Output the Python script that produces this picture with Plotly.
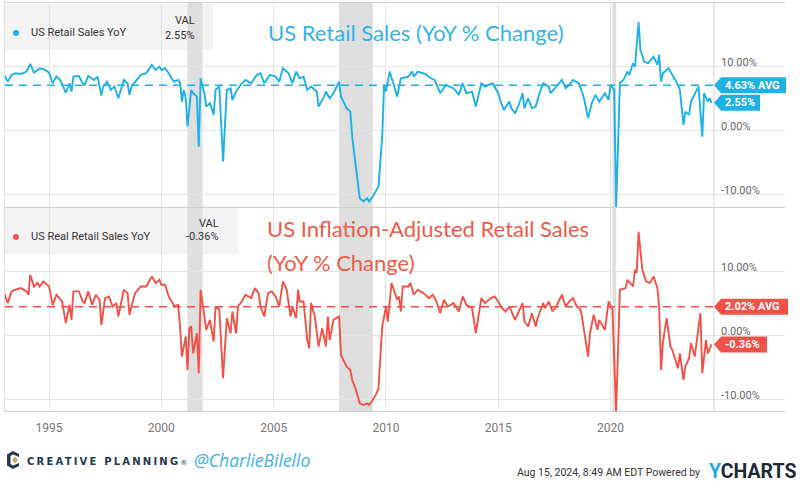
import plotly.graph_objects as go

# ---------------- data (in the chart's axis scale) ----------------
dates_nominal = [
    "1993-01", "1993-03", "1993-05", "1993-07", "1993-10", "1994-01", "1994-03", "1994-05", "1994-07", "1994-08",
    "1994-11", "1995-01", "1995-03", "1995-05", "1995-07", "1995-10", "1995-12", "1996-01", "1996-02", "1996-05",
    "1996-07", "1996-08", "1996-10", "1997-01", "1997-03", "1997-05", "1997-06", "1997-08", "1997-10", "1997-12",
    "1998-02", "1998-05", "1998-07", "1998-08", "1998-09", "1998-11", "1999-02", "1999-05", "1999-08", "1999-10",
    "1999-12", "2000-01", "2000-03", "2000-05", "2000-07", "2000-08", "2000-10", "2000-11", "2000-12", "2001-01",
    "2001-02", "2001-03", "2001-05", "2001-06", "2001-08", "2001-09", "2001-10", "2001-12", "2002-01", "2002-03",
    "2002-05", "2002-06", "2002-08", "2002-10", "2002-12", "2003-02", "2003-03", "2003-05", "2003-08", "2003-10",
    "2004-01", "2004-04", "2004-06", "2004-08", "2004-11", "2005-02", "2005-04", "2005-06", "2005-09", "2005-11",
    "2006-01", "2006-03", "2006-05", "2006-07", "2006-09", "2006-12", "2007-01", "2007-04", "2007-05", "2007-07",
    "2007-09", "2007-12", "2008-01", "2008-04", "2008-06", "2008-07", "2008-09", "2008-11", "2009-01", "2009-03",
    "2009-04", "2009-06", "2009-08", "2009-09", "2009-11", "2009-12", "2010-01", "2010-03", "2010-05", "2010-07",
    "2010-09", "2011-01", "2011-03", "2011-04", "2011-06", "2011-10", "2012-01", "2012-03", "2012-06", "2012-09",
    "2012-11", "2013-01", "2013-04", "2013-06", "2013-08", "2013-11", "2014-01", "2014-04", "2014-06", "2014-08",
    "2014-10", "2015-01", "2015-02", "2015-04", "2015-07", "2015-08", "2015-10", "2015-12", "2016-02", "2016-03",
    "2016-05", "2016-07", "2016-09", "2016-11", "2017-01", "2017-04", "2017-05", "2017-08", "2017-11", "2018-01",
    "2018-03", "2018-05", "2018-08", "2018-10", "2018-11", "2019-01", "2019-03", "2019-05", "2019-07", "2019-10",
    "2019-12", "2020-01", "2020-03", "2020-04", "2020-06", "2020-08", "2020-10", "2020-11", "2021-01", "2021-02",
    "2021-03", "2021-04", "2021-05", "2021-07", "2021-09", "2021-12", "2022-02", "2022-03", "2022-04", "2022-05",
    "2022-08", "2022-10", "2023-01", "2023-02", "2023-04", "2023-05", "2023-07", "2023-08", "2023-10", "2023-12",
    "2024-02", "2024-03", "2024-05", "2024-06", "2024-07",
]
yoy_nominal = [
    8.75, 7.71, 8.75, 9.01, 8.9, 9.27, 10.47, 9.11, 9.53, 9.8,
    9.53, 9.11, 7.45, 8.49, 7.97, 5.99, 7.45, 6.15, 8.49, 8.59,
    7.45, 7.19, 8.59, 7.97, 8.49, 5.52, 6.93, 7.71, 6.41, 6.93,
    5.1, 7.97, 7.45, 5.63, 6.93, 7.71, 8.75, 9.01, 10.31, 9.53,
    10.05, 9.53, 9.8, 9.01, 7.97, 7.71, 7.97, 7.45, 4.58, 6.41,
    5.1, 0.68, 6.41, 5.89, 5.36, -2.45, 8.23, 5.89, 3.8, 4.32,
    2.5, 6.41, 6.93, -4.79, 6.41, 6.67, 4.84, 6.15, 7.45, 7.97,
    7.45, 8.75, 9.01, 7.45, 8.75, 8.49, 7.71, 9.8, 9.01, 7.45,
    9.27, 8.23, 8.49, 6.41, 6.93, 6.15, 3.8, 5.36, 6.15, 5.1,
    5.89, 7.71, 5.36, 3.54, 3.02, -0.89, -5.57, -10.52, -11.04, -10.52,
    -11.04, -10.26, -9.22, -8.7, -0.9, 7.2, 6.15, 9.27, 7.45, 5.36,
    8.23, 8.49, 9.27, 8.49, 9.27, 8.9, 8.23, 7.97, 5.89, 7.19,
    6.93, 6.67, 5.63, 7.45, 5.89, 6.15, 3.8, 7.45, 6.93, 7.19,
    7.45, 5.89, 4.84, 3.28, 4.58, 3.54, 2.76, 4.06, 5.89, 3.54,
    5.1, 3.54, 3.8, 5.89, 7.45, 6.93, 5.89, 6.93, 7.97, 6.67,
    7.19, 7.97, 7.45, 5.89, 4.84, 2.0, 4.32, 5.63, 4.58, 5.89,
    4.84, 7.19, 6.41, -12.0, 7.45, 8.0, 9.27, 8.75, 10.57, 10.05,
    13.18, 17.0, 12.66, 10.83, 10.57, 11.61, 10.31, 11.88, 7.71, 9.01,
    9.79, 8.75, 7.19, 6.41, 0.94, 3.02, 2.5, 4.58, 5.89, 6.93,
    -0.89, 5.89, 4.58, 5.1, 4.4,
]

dates_real = [
    "1993-01", "1993-03", "1993-05", "1993-07", "1993-10", "1994-01", "1994-02", "1994-03", "1994-05", "1994-07",
    "1994-08", "1994-10", "1995-01", "1995-03", "1995-05", "1995-08", "1995-10", "1995-12", "1996-01", "1996-02",
    "1996-05", "1996-07", "1996-08", "1996-10", "1996-12", "1997-02", "1997-04", "1997-05", "1997-07", "1997-09",
    "1997-11", "1998-01", "1998-02", "1998-05", "1998-07", "1998-08", "1998-09", "1998-11", "1999-02", "1999-05",
    "1999-06", "1999-08", "1999-10", "1999-12", "2000-01", "2000-03", "2000-05", "2000-07", "2000-08", "2000-10",
    "2000-11", "2000-12", "2001-02", "2001-03", "2001-04", "2001-05", "2001-06", "2001-08", "2001-09", "2001-10",
    "2001-12", "2002-01", "2002-03", "2002-05", "2002-06", "2002-08", "2002-10", "2002-12", "2003-02", "2003-03",
    "2003-05", "2003-06", "2003-08", "2003-10", "2004-01", "2004-03", "2004-05", "2004-06", "2004-08", "2004-10",
    "2004-12", "2005-02", "2005-04", "2005-06", "2005-08", "2005-10", "2005-11", "2006-01", "2006-02", "2006-03",
    "2006-05", "2006-07", "2006-08", "2006-09", "2006-11", "2007-01", "2007-03", "2007-05", "2007-06", "2007-07",
    "2007-09", "2007-12", "2008-01", "2008-03", "2008-04", "2008-06", "2008-07", "2008-09", "2008-11", "2009-01",
    "2009-03", "2009-04", "2009-06", "2009-08", "2009-09", "2009-11", "2010-01", "2010-02", "2010-04", "2010-07",
    "2010-08", "2010-09", "2010-10", "2011-01", "2011-02", "2011-04", "2011-06", "2011-09", "2011-12", "2012-02",
    "2012-04", "2012-06", "2012-08", "2012-10", "2013-01", "2013-04", "2013-06", "2013-08", "2013-11", "2014-01",
    "2014-04", "2014-06", "2014-09", "2014-11", "2015-01", "2015-03", "2015-05", "2015-07", "2015-10", "2015-12",
    "2016-02", "2016-03", "2016-05", "2016-07", "2016-09", "2016-10", "2017-01", "2017-02", "2017-04", "2017-06",
    "2017-08", "2017-11", "2018-01", "2018-03", "2018-05", "2018-07", "2018-09", "2018-10", "2019-01", "2019-02",
    "2019-04", "2019-06", "2019-07", "2019-10", "2019-12", "2020-02", "2020-04", "2020-06", "2020-09", "2020-10",
    "2021-01", "2021-02", "2021-03", "2021-04", "2021-06", "2021-08", "2021-10", "2021-12", "2022-02", "2022-03",
    "2022-04", "2022-05", "2022-07", "2022-09", "2022-10", "2023-01", "2023-02", "2023-04", "2023-05", "2023-07",
    "2023-08", "2023-10", "2024-01", "2024-02", "2024-04", "2024-05", "2024-07",
]
yoy_real = [
    6.67, 5.1, 6.94, 7.2, 7.46, 6.94, 6.41, 9.56, 7.72, 8.25,
    7.72, 8.51, 7.72, 4.83, 6.41, 5.36, 1.95, 4.83, 2.47, 6.94,
    6.94, 5.36, 5.1, 6.94, 4.83, 6.41, 5.62, 1.68, 5.88, 6.15,
    4.57, 5.1, 3.0, 7.2, 6.67, 3.26, 4.57, 6.67, 7.72, 7.72,
    8.25, 9.3, 8.25, 8.77, 7.99, 7.99, 6.15, 5.1, 4.57, 4.83,
    1.42, -3.3, -0.15, -5.4, 1.16, 1.42, -2.78, 0.37, -5.92, 7.2,
    3.0, 0.9, 2.47, -0.94, 4.57, 4.05, -6.71, 2.73, 0.37, 3.78,
    0.37, 4.57, 5.36, 6.41, 5.88, 7.46, 6.67, 4.57, 3.0, 6.67,
    6.94, 6.15, 4.57, 8.51, 7.2, 3.0, 4.57, 2.73, 7.2, 5.36,
    5.36, -0.68, -1.99, 5.1, 3.0, -1.73, 1.16, -1.73, 3.0, -0.68,
    2.47, 3.0, -3.04, -4.35, -4.88, -5.4, -6.98, -8.55, -10.65, -10.91,
    -10.65, -10.91, -10.13, -9.08, -8.3, 1.42, 4.57, 2.21, 8.25, 5.62,
    6.15, 3.78, 7.72, 7.72, 8.25, 6.41, 7.2, 6.67, 5.88, 6.41,
    5.36, 3.52, 5.62, 4.57, 5.1, 3.78, 6.15, 4.83, 4.31, 0.37,
    5.88, 5.1, 5.88, 6.15, 5.36, 4.31, 3.78, 4.57, 2.47, 3.78,
    5.1, 2.21, 1.42, 3.52, 1.42, 2.73, 5.1, 4.31, 5.36, 3.78,
    4.57, 6.41, 4.57, 5.36, 5.88, 4.57, 4.05, 2.47, -3.3, 0.37,
    3.26, 0.9, 2.47, 0.9, 5.36, 4.05, -12.0, 7.2, 7.46, 8.77,
    7.72, 10.35, 9.83, 16.3, 10.35, 8.51, 8.25, 9.3, 7.46, 4.57,
    -5.4, -1.2, 2.73, -1.73, -2.25, -5.14, -2.78, -6.98, -4.88, -3.56,
    -1.2, -3.3, 3.52, -5.92, -0.68, -2.78, -1.4,
]

series_names = ["US Retail Sales YoY", "US Real Retail Sales YoY"]
last_value_text = ["2.55%", "-0.36%"]
avg_levels = [7.15, 4.52]
avg_text = ["4.63% AVG", "2.02% AVG"]
panel_titles = ["US Retail Sales (YoY % Change)", "US Inflation-Adjusted Retail Sales", "(YoY % Change)"]

recession_starts = ["2001-03-01", "2007-12-01", "2020-02-01"]
recession_ends = ["2001-11-01", "2009-06-01", "2020-04-01"]

year_tickvals = ["1995-01-01", "2000-01-01", "2005-01-01", "2010-01-01", "2015-01-01", "2020-01-01"]
year_ticktext = ["1995", "2000", "2005", "2010", "2015", "2020"]
y_tickvals = [10, 0, -10]
y_ticktext = ["10.00%", "0.00%", "-10.00%"]

x_range = ["1993-01-15", "2027-10-08"]
data_edge = "2024-08-08"

# ---------------- styling ----------------
BLUE = "#1fb0e6"
RED = "#f0524a"
GRID = "#e4e4e4"
W, H = 800, 482
ML, MR, MT, MB = 5, 15, 3, 71
PW, PH = W - ML - MR, H - MT - MB


def px(x):
    return (x - ML) / PW


def py(y):
    return (H - MB - y) / PH


EDGE = px(714)

fig = go.Figure()

fig.add_trace(go.Scatter(x=dates_nominal, y=yoy_nominal, xaxis="x2", yaxis="y", mode="lines",
                         line=dict(color=BLUE, width=1.9), hoverinfo="skip", showlegend=False))
fig.add_trace(go.Scatter(x=[x_range[0], data_edge], y=[avg_levels[0]] * 2, xaxis="x2", yaxis="y", mode="lines",
                         line=dict(color=BLUE, width=1.6, dash="8px,6px"), hoverinfo="skip", showlegend=False))
fig.add_trace(go.Scatter(x=dates_real, y=yoy_real, xaxis="x", yaxis="y2", mode="lines",
                         line=dict(color=RED, width=1.9), hoverinfo="skip", showlegend=False))
fig.add_trace(go.Scatter(x=[x_range[0], data_edge], y=[avg_levels[1]] * 2, xaxis="x", yaxis="y2", mode="lines",
                         line=dict(color=RED, width=1.6, dash="8px,6px"), hoverinfo="skip", showlegend=False))

shapes = []
# header boxes
shapes.append(dict(type="rect", xref="paper", yref="paper", x0=px(5), x1=px(213), y0=py(50), y1=py(4),
                   fillcolor="#f3f3f3", line=dict(width=0), layer="below"))
shapes.append(dict(type="rect", xref="paper", yref="paper", x0=px(5), x1=px(238), y0=py(254), y1=py(208),
                   fillcolor="#f3f3f3", line=dict(width=0), layer="below"))
# recession bands
for s, e in zip(recession_starts, recession_ends):
    shapes.append(dict(type="rect", xref="x", yref="paper", x0=s, x1=e, y0=0, y1=1,
                       fillcolor="#dedede", line=dict(width=0), layer="below"))
# right edge of data area
shapes.append(dict(type="line", xref="paper", yref="paper", x0=EDGE, x1=EDGE, y0=0, y1=1,
                   line=dict(color="#d6d6d6", width=1)))
# legend dots
for yc, col in [(33, BLUE), (237, RED)]:
    shapes.append(dict(type="circle", xref="paper", yref="paper", xsizemode="pixel", ysizemode="pixel",
                       xanchor=px(16), yanchor=py(yc), x0=-3, x1=3, y0=-3, y1=3,
                       fillcolor=col, line=dict(width=0)))

annotations = []
# flags (avg + last value)
last_vals = [yoy_nominal[-1], yoy_real[-1]]
flag_specs = [
    ("y", avg_levels[0], avg_text[0], BLUE, 72),
    ("y", last_vals[0], last_value_text[0], BLUE, 46),
    ("y2", avg_levels[1], avg_text[1], RED, 74),
    ("y2", last_vals[1], last_value_text[1], RED, 53),
]
for yref, val, txt, col, wpx in flag_specs:
    shapes.append(dict(type="path", xref="paper", yref=yref, xsizemode="pixel", ysizemode="pixel",
                       xanchor=EDGE, yanchor=val,
                       path=f"M 0 0 L 7 8 L {wpx} 8 L {wpx} -8 L 7 -8 Z",
                       fillcolor=col, line=dict(width=0), layer="above"))
    annotations.append(dict(xref="paper", yref=yref, x=EDGE, y=val, xanchor="left", yanchor="middle",
                            xshift=9, text=f"<b>{txt}</b>", showarrow=False,
                            font=dict(family="Roboto", size=11, color="white")))

# y tick labels at the right
for yref in ["y", "y2"]:
    for v, t in zip(y_tickvals, y_ticktext):
        annotations.append(dict(xref="paper", yref=yref, x=px(719), y=v, xanchor="left", yanchor="middle",
                                yshift=4, text=t, showarrow=False,
                                font=dict(family="Roboto", size=11, color="#666666")))

# legend texts
legend_font = dict(family="Roboto", size=11, color="#333333")
annotations += [
    dict(xref="paper", yref="paper", x=px(29), y=py(33), xanchor="left", yanchor="middle",
         text=series_names[0], showarrow=False, font=legend_font),
    dict(xref="paper", yref="paper", x=px(197), y=py(21), xanchor="right", yanchor="middle",
         text="VAL", showarrow=False, font=legend_font),
    dict(xref="paper", yref="paper", x=px(197), y=py(35), xanchor="right", yanchor="middle",
         text=last_value_text[0], showarrow=False, font=legend_font),
    dict(xref="paper", yref="paper", x=px(29), y=py(237), xanchor="left", yanchor="middle",
         text=series_names[1], showarrow=False, font=legend_font),
    dict(xref="paper", yref="paper", x=px(221), y=py(223), xanchor="right", yanchor="middle",
         text="VAL", showarrow=False, font=legend_font),
    dict(xref="paper", yref="paper", x=px(221), y=py(237), xanchor="right", yanchor="middle",
         text=last_value_text[1], showarrow=False, font=legend_font),
]

# panel titles
annotations += [
    dict(xref="paper", yref="paper", x=px(266), y=py(33), xanchor="left", yanchor="middle",
         text=panel_titles[0], showarrow=False, font=dict(family="Lato", size=22, color="#35b4e3")),
    dict(xref="paper", yref="paper", x=px(265), y=py(228), xanchor="left", yanchor="middle",
         text=panel_titles[1], showarrow=False, font=dict(family="Lato", size=22, color="#ef5b4c")),
    dict(xref="paper", yref="paper", x=px(265), y=py(262), xanchor="left", yanchor="middle",
         text=panel_titles[2], showarrow=False, font=dict(family="Lato", size=22, color="#ef5b4c")),
]

# footer
shapes.append(dict(type="path", xref="paper", yref="paper", xsizemode="pixel", ysizemode="pixel",
                   xanchor=px(13), yanchor=py(460),
                   path="M 6 6 L 0 9 L -6 5.5 L -6 -5.5 L 0 -9 L 6 -6 L 6 -3 L 0 -5.5 L -2.5 -4 L -2.5 4 L 0 5.5 L 6 3 Z",
                   fillcolor="#24384f", line=dict(width=0)))
shapes.append(dict(type="path", xref="paper", yref="paper", xsizemode="pixel", ysizemode="pixel",
                   xanchor=px(15), yanchor=py(460),
                   path="M 0 -3.5 L 3 0 L 0 3.5 L -3 0 Z", fillcolor="#c9a870", line=dict(width=0)))
annotations += [
    dict(xref="paper", yref="paper", x=px(25), y=py(461), xanchor="left", yanchor="middle",
         text="<span style='letter-spacing:2.2px'><b>CREATIVE PLANNING</b></span><span style='font-size:7px'>®</span>",
         showarrow=False, font=dict(family="DejaVu Sans", size=10, color="#24384f")),
    dict(xref="paper", yref="paper", x=px(192), y=py(460), xanchor="left", yanchor="middle",
         text="<i>@CharlieBilello</i>", showarrow=False,
         font=dict(family="Open Sans", size=17.5, color="#3cb4e6")),
    dict(xref="paper", yref="paper", x=px(702), y=py(473), xanchor="right", yanchor="middle",
         text="Aug 15, 2024, 8:49 AM EDT Powered by", showarrow=False,
         font=dict(family="Liberation Sans Narrow, Roboto", size=10.5, color="#333333")),
    dict(xref="paper", yref="paper", x=px(797), y=py(472), xanchor="right", yanchor="middle",
         text="<b><span style='color:#23a8e0'>Y</span>CHARTS</b>", showarrow=False, borderpad=0,
         font=dict(family="Roboto", size=19.5, color="#1f2a36")),
]

axis_common = dict(showgrid=True, gridcolor=GRID, gridwidth=1, zeroline=False)
fig.update_layout(
    width=W, height=H,
    margin=dict(l=ML, r=MR, t=MT, b=MB),
    paper_bgcolor="white", plot_bgcolor="white",
    showlegend=False,
    xaxis=dict(domain=[0, 1], anchor="y2", type="date", range=x_range, tickvals=year_tickvals,
               ticktext=year_ticktext, ticks="", showline=True, linecolor="#d0d0d0",
               tickfont=dict(family="Liberation Sans Narrow, Roboto", size=12, color="#777777"),
               ticklabelstandoff=6, **axis_common),
    xaxis2=dict(domain=[0, 1], anchor="y", type="date", matches="x", showticklabels=False, ticks="",
                tickvals=year_tickvals, showline=True, mirror=True, linecolor="#d0d0d0", **axis_common),
    yaxis=dict(domain=[0.5, 1], anchor="x2", range=[-11.9, 20], tickvals=y_tickvals, showticklabels=False,
               showline=True, linecolor="#dddddd", **axis_common),
    yaxis2=dict(domain=[0, 0.5], anchor="x", range=[-11.85, 20.2], tickvals=y_tickvals, showticklabels=False,
                showline=True, linecolor="#dddddd", **axis_common),
    shapes=shapes,
    annotations=annotations,
)

fig.write_html("out.html", config={"displayModeBar": False, "staticPlot": True},
               post_script="document.body.style.margin='0';document.body.style.overflow='hidden';")
